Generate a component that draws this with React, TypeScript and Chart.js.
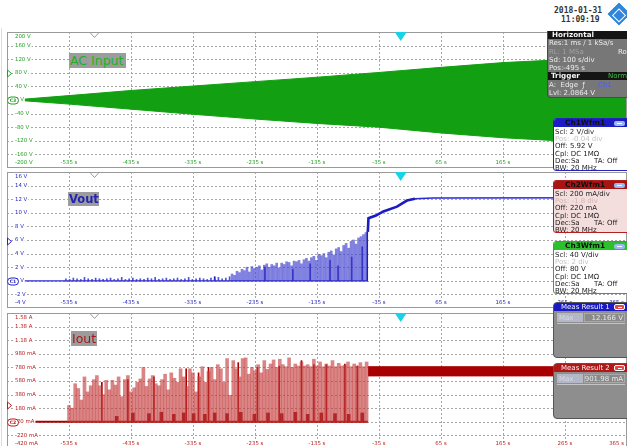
import React, { useEffect, useRef } from 'react';
import { Chart, registerables } from 'chart.js';

Chart.register(...registerables);

// ---------- time axis (shared) ----------
const TIME_MIN = -635;
const TIME_MAX = 365;
const timeTicks = [-635, -535, -435, -335, -235, -135, -35, 65, 165, 265, 365];
const timeTickLabels = ['', '-535 s', '-435 s', '-335 s', '-235 s', '-135 s', '-35 s', '65 s', '165 s', '265 s', '365 s'];
const triggerTime = 0;
const positionTime = -495;

// ---------- Ch3: AC input (V) ----------
const acTicks = [-200, -160, -120, -80, -40, 0, 40, 80, 120, 160, 200];
const acTickLabels = ['-200 V', '-160 V', '-120 V', '-80 V', '-40 V', '0 V', '40 V', '80 V', '120 V', '160 V', '200 V'];
const acTimes = [-625, -535, -435, -335, -235, -135, -35, 65, 165, 265, 365];
const acUpper = [0, 13, 28, 41, 54, 67, 81, 96, 110, 119, 126];
const acLower = [0, -12, -27, -42, -56, -69, -80, -97, -111, -121, -127];

// ---------- Ch1: Vout (V) ----------
const voutTicks = [-4, -2, 0, 2, 4, 6, 8, 10, 12, 14, 16];
const voutTickLabels = ['-4 V', '-2 V', '0 V', '2 V', '4 V', '6 V', '8 V', '10 V', '12 V', '14 V', '16 V'];
const vBumpStart = -540;
const vBumpStep = 6;
const vBumpVals = [
  0.3, 0.2, 0.4, 0.3, 0.2, 0.5, 0.3, 0.2, 0.4, 0.3,
  0.2, 0.3, 0.4, 0.2, 0.3, 0.5, 0.2, 0.3, 0.4, 0.2,
  0.3, 0.2, 0.4, 0.3, 0.5, 0.2, 0.3, 0.4, 0.2, 0.3,
  0.4, 0.2, 0.3, 0.5, 0.2, 0.3, 0.4, 0.3, 0.2, 0.4,
  0.3, 0.5, 0.3, 0.4, 0.6,
];
const vRiseStart = -272;
const vRiseStep = 4;
const vRiseVals = [
  1.0, 0.8, 1.4, 1.2, 1.7, 1.5, 2.0, 1.3, 2.1, 1.8,
  2.0, 2.2, 1.6, 2.3, 2.5, 2.0, 2.4, 2.2, 2.6, 1.9,
  2.6, 2.4, 2.8, 2.7, 2.2, 2.9, 2.8, 3.0, 2.5, 3.1,
  3.3, 2.9, 3.4, 3.6, 3.0, 3.9, 3.7, 4.0, 3.4, 4.2,
  4.4, 3.8, 4.7, 4.9, 4.3, 5.2, 5.5, 4.8, 5.8, 6.0,
  5.4, 6.3, 6.5, 6.8, 7.1,
];
const vDarkTimes = [-300, -219, -174, -146, -114, -101, -79, -62, -54];
const vDarkVals = [0.6, 2.0, 1.7, 2.5, 3.0, 2.2, 3.5, 5.0, 7.2];
const vBaseTimes = [-635, -53];
const vBaseVals = [0, 0];
const vPostTimes = [-53, -52, -40, -28, -6, 10, 23];
const vPostVals = [7.2, 9.2, 9.6, 10.2, 10.9, 11.8, 12.06];
const vFlatTimes = [23, 52, 365];
const vFlatVals = [12.06, 12.16, 12.2];

// ---------- Ch2: Iout (mA) ----------
const ioutTicks = [-420, -220, -20, 180, 380, 580, 780, 980, 1180, 1380, 1580];
const ioutTickLabels = ['-420 mA', '-220 mA', '-20 mA', '180 mA', '380 mA', '580 mA', '780 mA', '980 mA', '1.18 A', '1.38 A', '1.58 A'];
const iBaseLevel = -20;
const iSpikeStart = -535;
const iSpikeStep = 5;
const iSpikeVals = [
  220, 180, 540, 470, 300, 640, 420, 510, 600, 660,
  510, 380, 590, 450, 590, 520, 640, 350, 600, 660,
  420, 480, 560, 610, 780, 500, 610, 660, 540, 510,
  600, 680, 450, 700, 620, 560, 760, 640, 500, 760,
  700, 420, 640, 790, 560, 720, 780, 600, 820, 760,
  560, 910, 370, 880, 760, 640, 910, 920, 680, 780,
  730, 820, 700, 880, 750, 830, 890, 780, 900, 820,
  790, 920, 780, 830, 800, 860, 800, 820, 790, 900,
  800, 860, 790, 830, 800, 880, 790, 840, 800, 810,
  860, 790, 830, 800, 850, 790, 860,
];
const iDarkTimes = [-482, -440, -398, -346, -326, -310, -262, -231, -196, -160, -140, -120, -90, -70];
const iDarkVals = [560, 600, 640, 760, 700, 780, 850, 780, 800, 880, 820, 820, 830, 800];
const iHumpTimes = [-458, -432, -406, -386, -366, -350, -334, -316, -300, -280, -258, -236, -214, -192, -170, -150, -128, -106, -84, -62];
const iHumpVals = [60, 110, 100, 120, 90, 110, 100, 90, 110, 100, 120, 90, 110, 100, 120, 90, 110, 100, 90, 110];
const iBaseTimes = [-635, -53];
const iBandTimes = [-53, 365];
const iBandUpper = [790, 790];
const iBandLower = [655, 655];

// ---------- helpers ----------
const pts = (xs: number[], ys: number[]) => xs.map((x, i) => ({ x, y: ys[i] }));
const gridPts = (start: number, step: number, ys: number[], base: number) =>
  ys.map((v, i) => ({ x: start + i * step, y: [base, v] }));
const barPts = (xs: number[], ys: number[], base: number) => xs.map((x, i) => ({ x, y: [base, ys[i]] }));

type PanelCfg = {
  color: string;
  yTicks: number[];
  yLabels: string[];
  chName: string;
  zero: number;
  offset: number;
  yMin: number;
  yMax: number;
};

const LABEL_FONT = '5.4px "DejaVu Sans", sans-serif';

function scopePlugin(p: PanelCfg) {
  return {
    id: 'scopeDecor',
    beforeDatasetsDraw(chart: any) {
      const { ctx, chartArea: a } = chart;
      const xs = chart.scales.x;
      const ys = chart.scales.y;
      ctx.save();
      ctx.strokeStyle = '#a6a6a6';
      ctx.lineWidth = 1;
      ctx.setLineDash([2, 2]);
      ctx.beginPath();
      timeTicks.forEach((t) => {
        const px = Math.round(xs.getPixelForValue(t)) + 0.5;
        ctx.moveTo(px, a.top);
        ctx.lineTo(px, a.bottom);
      });
      p.yTicks.forEach((v) => {
        const py = Math.round(ys.getPixelForValue(v)) + 0.5;
        ctx.moveTo(a.left, py);
        ctx.lineTo(a.right, py);
      });
      ctx.stroke();
      ctx.restore();
    },
    afterDatasetsDraw(chart: any) {
      const { ctx, chartArea: a } = chart;
      const xs = chart.scales.x;
      const ys = chart.scales.y;
      ctx.save();
      ctx.strokeStyle = '#9a9a9a';
      ctx.lineWidth = 1;
      ctx.strokeRect(a.left + 0.5, a.top + 0.5, a.right - a.left - 1, a.bottom - a.top - 1);

      ctx.font = LABEL_FONT;
      ctx.textBaseline = 'middle';
      const label = (text: string, x: number, y: number) => {
        const w = ctx.measureText(text).width;
        ctx.fillStyle = '#ffffff';
        ctx.fillRect(x - 1, y - 3.5, w + 2, 7);
        ctx.fillStyle = p.color;
        ctx.fillText(text, x, y);
      };
      p.yTicks.forEach((v, i) => {
        let py = ys.getPixelForValue(v);
        py = Math.max(a.top + 5, Math.min(a.bottom - 5.5, py));
        label(p.yLabels[i], a.left + 8, py);
      });
      timeTicks.forEach((t, i) => {
        const text = timeTickLabels[i];
        if (!text) return;
        const w = ctx.measureText(text).width;
        let px = xs.getPixelForValue(t);
        px = Math.min(a.right - w / 2 - 3, px);
        label(text, px - w / 2, a.bottom - 5.5);
      });

      const oy = Math.round(ys.getPixelForValue(p.offset)) + 0.5;
      ctx.fillStyle = '#ffffff';
      ctx.strokeStyle = p.color;
      ctx.beginPath();
      ctx.moveTo(a.left + 0.5, oy - 3.5);
      ctx.lineTo(a.left + 4.5, oy);
      ctx.lineTo(a.left + 0.5, oy + 3.5);
      ctx.closePath();
      ctx.fill();
      ctx.stroke();

      const zy = Math.round(ys.getPixelForValue(p.zero)) + 0.5;
      ctx.beginPath();
      const mx = a.left + 0.5, mw = 11, mh = 7;
      const r = 3.5;
      ctx.moveTo(mx + r, zy - mh / 2);
      ctx.lineTo(mx + mw - r, zy - mh / 2);
      ctx.arc(mx + mw - r, zy, r, -Math.PI / 2, Math.PI / 2);
      ctx.lineTo(mx + r, zy + mh / 2);
      ctx.arc(mx + r, zy, r, Math.PI / 2, Math.PI * 1.5);
      ctx.closePath();
      ctx.fillStyle = '#ffffff';
      ctx.fill();
      ctx.stroke();
      ctx.fillStyle = p.color;
      ctx.font = 'bold 4.6px "DejaVu Sans", sans-serif';
      ctx.textAlign = 'center';
      ctx.fillText(p.chName, mx + mw / 2, zy + 0.3);
      ctx.textAlign = 'left';

      const gx = Math.round(xs.getPixelForValue(positionTime)) + 0.5;
      ctx.beginPath();
      ctx.moveTo(gx - 4.5, a.top + 0.5);
      ctx.lineTo(gx + 4.5, a.top + 0.5);
      ctx.lineTo(gx, a.top + 5.5);
      ctx.closePath();
      ctx.fillStyle = '#ffffff';
      ctx.fill();
      ctx.strokeStyle = '#9a9a9a';
      ctx.stroke();

      const tx = xs.getPixelForValue(triggerTime);
      ctx.beginPath();
      ctx.moveTo(tx - 6, a.top);
      ctx.lineTo(tx + 6, a.top);
      ctx.lineTo(tx, a.top + 9);
      ctx.closePath();
      ctx.fillStyle = '#18d2e6';
      ctx.fill();
      ctx.restore();
    },
  };
}

function makeConfig(p: PanelCfg, datasets: any[]) {
  return {
    type: 'line',
    data: { datasets },
    options: {
      responsive: false,
      maintainAspectRatio: false,
      animation: false,
      events: [],
      layout: { padding: 0 },
      plugins: { legend: { display: false }, tooltip: { enabled: false }, title: { display: false } },
      elements: { point: { radius: 0 }, line: { tension: 0 } },
      scales: {
        x: { type: 'linear', min: TIME_MIN, max: TIME_MAX, display: false, offset: false },
        y: { type: 'linear', min: p.yMin, max: p.yMax, display: false },
      },
    },
    plugins: [scopePlugin(p)],
  } as any;
}

const acPanel: PanelCfg = {
  color: '#249e24', yTicks: acTicks, yLabels: acTickLabels, chName: 'C3', zero: 0, offset: 80, yMin: -200, yMax: 200,
};
const voutPanel: PanelCfg = {
  color: '#2424c0', yTicks: voutTicks, yLabels: voutTickLabels, chName: 'C1', zero: 0, offset: 5.92, yMin: -4, yMax: 16,
};
const ioutPanel: PanelCfg = {
  color: '#b81c1c', yTicks: ioutTicks, yLabels: ioutTickLabels, chName: 'C2', zero: -20, offset: 220, yMin: -420, yMax: 1580,
};

const GREEN = 'rgb(18,160,18)';

function acDatasets() {
  return [
    { type: 'line', data: pts(acTimes, acUpper), borderColor: GREEN, borderWidth: 1, backgroundColor: GREEN, fill: '+1', pointRadius: 0 },
    { type: 'line', data: pts(acTimes, acLower), borderColor: GREEN, borderWidth: 1, fill: false, pointRadius: 0 },
  ];
}

function voutDatasets() {
  return [
    { type: 'line', data: pts(vBaseTimes, vBaseVals), borderColor: '#2c2cd0', borderWidth: 1.2, pointRadius: 0 },
    { type: 'bar', data: gridPts(vBumpStart, vBumpStep, vBumpVals, 0), backgroundColor: 'rgba(50,50,205,0.85)', barThickness: 1, grouped: false, borderWidth: 0 },
    { type: 'bar', data: gridPts(vRiseStart, vRiseStep, vRiseVals, 0), backgroundColor: 'rgba(70,70,210,0.68)', barThickness: 2, grouped: false, borderWidth: 0 },
    { type: 'bar', data: barPts(vDarkTimes, vDarkVals, 0), backgroundColor: '#1616b0', barThickness: 1, grouped: false, borderWidth: 0 },
    { type: 'line', data: pts(vPostTimes, vPostVals), borderColor: '#1c1cc0', borderWidth: 2.6, pointRadius: 0 },
    { type: 'line', data: pts(vFlatTimes, vFlatVals), borderColor: '#2a2ad0', borderWidth: 1.5, pointRadius: 0 },
  ];
}

function ioutDatasets() {
  return [
    { type: 'bar', data: gridPts(iSpikeStart, iSpikeStep, iSpikeVals, iBaseLevel), backgroundColor: 'rgba(196,58,58,0.62)', barThickness: 3, grouped: false, borderWidth: 0 },
    { type: 'bar', data: barPts(iDarkTimes, iDarkVals, iBaseLevel), backgroundColor: '#a80000', barThickness: 1, grouped: false, borderWidth: 0 },
    { type: 'bar', data: barPts(iHumpTimes, iHumpVals, iBaseLevel), backgroundColor: '#980000', barThickness: 3, grouped: false, borderWidth: 0 },
    { type: 'line', data: pts(iBaseTimes, [iBaseLevel, iBaseLevel]), borderColor: '#a80000', borderWidth: 2, pointRadius: 0 },
    { type: 'line', data: pts(iBandTimes, iBandUpper), borderColor: '#a80000', borderWidth: 1, backgroundColor: '#a80000', fill: '+1', pointRadius: 0 },
    { type: 'line', data: pts(iBandTimes, iBandLower), borderColor: '#a80000', borderWidth: 1, fill: false, pointRadius: 0 },
  ];
}

function ScopePanel({ top, height, cfg, datasets }: { top: number; height: number; cfg: PanelCfg; datasets: () => any[] }) {
  const ref = useRef<HTMLCanvasElement>(null);
  useEffect(() => {
    const chart = new Chart(ref.current as HTMLCanvasElement, makeConfig(cfg, datasets()));
    return () => chart.destroy();
  }, []);
  return (
    <canvas
      ref={ref}
      width={620}
      height={height}
      style={{ position: 'absolute', left: 7, top, width: 620, height, display: 'block' }}
    />
  );
}

const boxFont = '"DejaVu Sans", Verdana, sans-serif';

function T({ left, top, children, color = '#222', bold = false, size = 7 }: any) {
  return (
    <div
      style={{
        position: 'absolute', left, top, whiteSpace: 'pre', color, fontWeight: bold ? 'bold' : 'normal',
        fontSize: size, lineHeight: '8px', fontFamily: boxFont,
      }}
    >
      {children}
    </div>
  );
}

function WfmBox({ top, title, border, titleBg, bodyBg, lines, dimColor }: any) {
  return (
    <div
      style={{
        position: 'absolute', left: 553, top, width: 80, height: 53, background: bodyBg,
        border: `1px solid ${border}`, borderRadius: 3, overflow: 'hidden', boxSizing: 'border-box',
      }}
    >
      <div style={{ position: 'absolute', left: 0, top: 0, width: '100%', height: 8, background: titleBg }} />
      <T left={11} top={0} bold size={7.4} color="#101010">{title}</T>
      <div style={{ position: 'absolute', left: 60, top: 1.5, width: 11, height: 5, background: '#9ab8f2', borderRadius: 2 }}>
        <div style={{ position: 'absolute', left: 3, top: 2, width: 5, height: 1, background: '#fff' }} />
      </div>
      {lines.map((ln: any, i: number) => (
        <React.Fragment key={i}>
          <T left={1} top={8.5 + i * 7.35} color={ln.dim ? dimColor : '#222'}>{ln.text}</T>
          {ln.right ? <T left={40} top={8.5 + i * 7.35}>{ln.right}</T> : null}
        </React.Fragment>
      ))}
    </div>
  );
}

function MeasBox({ top, title, titleBg, value }: any) {
  return (
    <div
      style={{
        position: 'absolute', left: 553, top, width: 80, height: 56, background: '#8e8e8e',
        border: '1px solid #555', borderRadius: 4, overflow: 'hidden', boxSizing: 'border-box',
      }}
    >
      <div style={{ position: 'absolute', left: 0, top: 0, width: '100%', height: 8, background: titleBg }} />
      <T left={7} top={0} color="#f2f2f2" size={7}>{title}</T>
      <div style={{ position: 'absolute', left: 60, top: 1, width: 11, height: 6, background: '#e04848', border: '1px solid #fff', borderRadius: 2, boxSizing: 'border-box' }}>
        <div style={{ position: 'absolute', left: 3, top: 1.5, width: 4, height: 1.5, background: '#fff' }} />
      </div>
      <div style={{ position: 'absolute', left: 3, top: 10, width: 26, height: 9, background: '#b4b7c6' }} />
      <T left={5} top={10.5} color="#d8dae6">Max</T>
      <div style={{ position: 'absolute', left: 30, top: 10, width: 41, height: 9, background: '#8a8a8a', border: '1px solid #a9a9a9', boxSizing: 'border-box' }} />
      <div
        style={{
          position: 'absolute', left: 30, top: 10.5, width: 39, textAlign: 'right', fontSize: 7, lineHeight: '8px',
          color: '#e8e8e8', fontFamily: boxFont, whiteSpace: 'pre',
        }}
      >
        {value}
      </div>
      <div style={{ position: 'absolute', left: 3, top: 20, width: 68, height: 1, background: '#c4c4c4' }} />
    </div>
  );
}

export default function App() {
  return (
    <div
      style={{
        position: 'fixed', left: 0, top: 0, width: 627, height: 446, background: '#ffffff', overflow: 'hidden',
      }}
    >
      <div style={{ position: 'absolute', left: 1, top: 28, width: 1, height: 418, background: '#dcdcdc' }} />
      <ScopePanel top={32} height={136} cfg={acPanel} datasets={acDatasets} />
      <ScopePanel top={172} height={136} cfg={voutPanel} datasets={voutDatasets} />
      <ScopePanel top={313} height={136} cfg={ioutPanel} datasets={ioutDatasets} />

      <div style={{ position: 'absolute', left: 69, top: 53, width: 57, height: 15, background: '#9c9c9c', color: '#22b022', fontFamily: boxFont, fontSize: 12.5, lineHeight: '15px', paddingLeft: 1, boxSizing: 'border-box', whiteSpace: 'pre' }}>AC Input</div>
      <div style={{ position: 'absolute', left: 68, top: 192, width: 31, height: 14, background: '#9c9c9c', color: '#2424b4', fontFamily: boxFont, fontWeight: 'bold', fontSize: 11.5, lineHeight: '14px', paddingLeft: 1, boxSizing: 'border-box', whiteSpace: 'pre' }}>Vout</div>
      <div style={{ position: 'absolute', left: 71, top: 331, width: 26, height: 15, background: '#9c9c9c', color: '#a81818', fontFamily: boxFont, fontSize: 12.5, lineHeight: '15px', paddingLeft: 1, boxSizing: 'border-box', whiteSpace: 'pre' }}>Iout</div>

      <div style={{ position: 'absolute', left: 554, top: 6, fontFamily: '"DejaVu Sans Mono", monospace', fontWeight: 'bold', fontSize: 8, lineHeight: '9px', color: '#333', whiteSpace: 'pre' }}>2018-01-31</div>
      <div style={{ position: 'absolute', left: 561, top: 14.5, fontFamily: '"DejaVu Sans Mono", monospace', fontWeight: 'bold', fontSize: 8, lineHeight: '9px', color: '#333', whiteSpace: 'pre' }}>11:09:19</div>
      <div style={{ position: 'absolute', left: 611, top: 6, width: 16, height: 16, transform: 'rotate(45deg)', background: '#2f86da', border: '1.5px solid #2f86da', boxSizing: 'border-box' }}>
        <div style={{ position: 'absolute', left: 2.5, top: 2.5, width: 8, height: 8, border: '1.5px solid #fff' }} />
      </div>

      <div style={{ position: 'absolute', left: 547, top: 31, width: 90, height: 67, background: '#777777', borderLeft: '1px solid #4a4a4a', borderBottom: '1px solid #4a4a4a', borderBottomLeftRadius: 4, overflow: 'hidden', boxSizing: 'border-box' }}>
        <div style={{ position: 'absolute', left: 0, top: 0, width: '100%', height: 8, background: '#141414' }} />
        <T left={4} top={0} bold color="#f4f4f4" size={7.2}>Horizontal</T>
        <T left={1} top={8} color="#ececec">Res:1 ms / 1 kSa/s</T>
        <T left={1} top={16.5} color="#a2a2a2">RL: 1 MSa</T>
        <T left={70} top={16.5} color="#ececec">Ro</T>
        <T left={1} top={25} color="#ececec">Sd: 100 s/div</T>
        <T left={1} top={32.5} color="#ececec">Pos:-495 s</T>
        <div style={{ position: 'absolute', left: 0, top: 41, width: '100%', height: 8, background: '#141414' }} />
        <T left={3} top={41} bold color="#f4f4f4" size={7.2}>Trigger</T>
        <T left={60} top={41} color="#3cc03c">Norm</T>
        <T left={1} top={50} color="#ececec">A:  Edge  ƒ</T>
        <T left={50} top={50} color="#4a5cff">Ch1</T>
        <T left={1} top={57.5} color="#ececec">Lvl: 2.0864 V</T>
      </div>

      <WfmBox
        top={118}
        title="Ch1Wfm1"
        border="#2424b8"
        titleBg="#1c1cc4"
        bodyBg="#ffffff"
        dimColor="#c4c4c4"
        lines={[
          { text: 'Scl: 2 V/div' },
          { text: 'Pos: -0.04 div', dim: true },
          { text: 'Off: 5.92 V' },
          { text: 'Cpl: DC 1MΩ' },
          { text: 'Dec:Sa', right: 'TA: Off' },
          { text: 'BW: 20 MHz' },
        ]}
      />
      <WfmBox
        top={180}
        title="Ch2Wfm1"
        border="#b42020"
        titleBg="#a81414"
        bodyBg="#f4dddd"
        dimColor="#d0b4b4"
        lines={[
          { text: 'Scl: 200 mA/div' },
          { text: 'Pos: -1.8 div', dim: true },
          { text: 'Off: 220 mA' },
          { text: 'Cpl: DC 1MΩ' },
          { text: 'Dec:Sa', right: 'TA: Off' },
          { text: 'BW: 20 MHz' },
        ]}
      />
      <WfmBox
        top={241}
        title="Ch3Wfm1"
        border="#2eae2e"
        titleBg="#2cc02c"
        bodyBg="#ffffff"
        dimColor="#c4c4c4"
        lines={[
          { text: 'Scl: 40 V/div' },
          { text: 'Pos: 2 div', dim: true },
          { text: 'Off: 80 V' },
          { text: 'Cpl: DC 1MΩ' },
          { text: 'Dec:Sa', right: 'TA: Off' },
          { text: 'BW: 20 MHz' },
        ]}
      />
      <MeasBox top={302} title="Meas Result 1" titleBg="#1a1ac4" value="12.166 V" />
      <MeasBox top={363} title="Meas Result 2" titleBg="#b01818" value="901.98 mA" />
    </div>
  );
}
